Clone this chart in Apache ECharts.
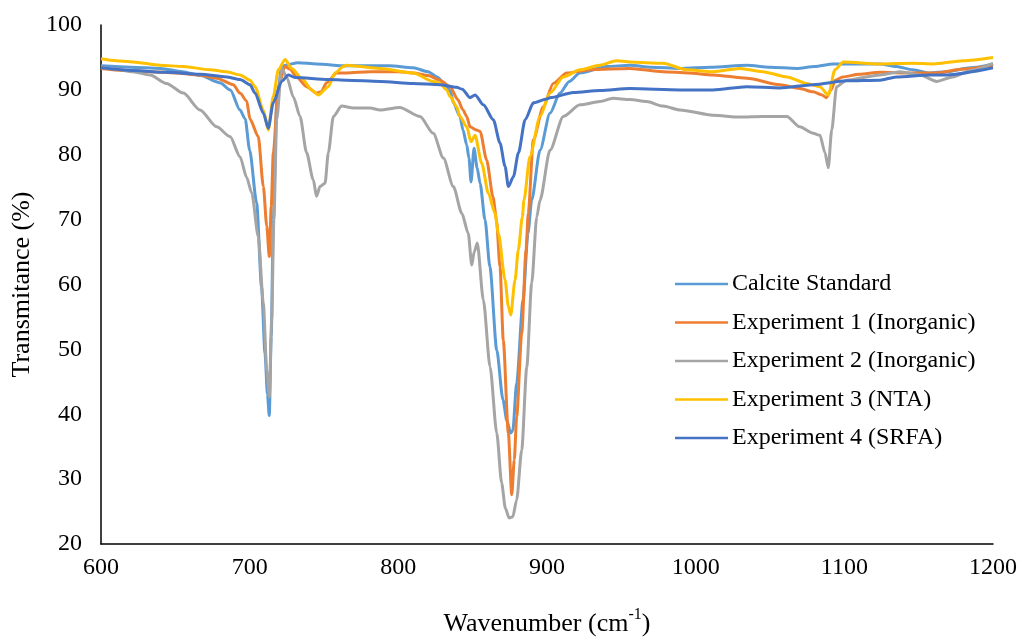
<!DOCTYPE html>
<html>
<head>
<meta charset="utf-8">
<script src="https://cdn.jsdelivr.net/npm/echarts@6/dist/echarts.min.js"></script>
<style>html,body{margin:0;padding:0;background:#fff}#c{width:1022px;height:637px}</style>
</head>
<body>
<div id="c"></div>
<script>
const seriesNames = ['Calcite Standard','Experiment 1 (Inorganic)','Experiment 2 (Inorganic)','Experiment 3 (NTA)','Experiment 4 (SRFA)'];
const xTicks = [600,700,800,900,1000,1100,1200];
const yTicks = [20,30,40,50,60,70,80,90,100];

const calcite = [[600,93.7],[620,93.5],[640,93.3],[655,92.8],[667,92.2],[680,91.1],[687,90.0],[693.5,86.9],[697,85.5],[700,80.7],[704.7,72.6],[708,59.6],[710.3,49.4],[712,43],[713.2,39.8],[714.5,52],[715.9,69.9],[718.2,88],[721.5,93.5],[724,93.8],[732.5,94.2],[745,94.0],[765,93.7],[794,93.7],[810,93.4],[820,92.8],[826,92.0],[831,91],[835,89.8],[837,88],[841.5,85.9],[843.5,83.8],[846,81.5],[847.5,79.5],[848.9,75.8],[850.9,81.0],[853,78],[855,75.6],[858.3,70],[861.6,62.7],[866.2,49.9],[870.4,42.2],[873,39],[875.6,37.1],[877,37.5],[879.6,44.8],[883.9,57.6],[887.2,67.9],[889.7,73],[895.3,80.7],[902,86.4],[908.7,89.5],[915,91.3],[922,92.6],[940,93.6],[956,93.8],[970,93.5],[989.5,93.3],[1010,93.5],[1034.5,93.8],[1050,93.5],[1068,93.3],[1080,93.6],[1092.4,94.0],[1110,94.0],[1124,94.0],[1135,93.6],[1146,93.1],[1157.6,92.6],[1169,92.8],[1185,93.4],[1200,94.0]];

const exp1 = [[600,93.3],[615,93.0],[633,92.8],[650,92.6],[666.6,92.3],[677.8,91.8],[689,90.8],[693.5,89.5],[698,88.3],[700.2,85.5],[705.8,82.8],[709.2,75.1],[711.5,69],[713.2,64.3],[714.5,72],[715.9,80.3],[719.3,90.6],[723.8,93.6],[727,93.2],[731.6,92.0],[738.3,90.5],[745,89.5],[748,89.7],[751.8,91.1],[758.5,92.6],[765,92.6],[781,92.8],[800,92.8],[810,92.6],[820,92.2],[828,91.5],[834.8,90.5],[840,88.5],[843.5,86.9],[846,85.9],[848.2,84.3],[852.7,83.8],[855,83.6],[859.4,79.2],[863.7,73.5],[866,70],[868.4,62.7],[870.6,51.4],[874,37.1],[876.3,27.6],[878,33],[879.6,39.6],[883,52.5],[885.9,65.3],[887.4,71],[890.8,82.3],[897.5,87.4],[904.2,91],[913.2,92.6],[928.9,93.1],[955.8,93.3],[978,92.8],[995,92.6],[1011.6,92.3],[1034.5,91.8],[1056.7,90.8],[1070,90.2],[1079,89.7],[1085,89.2],[1088,88.8],[1091,90],[1094,91.5],[1099,92.0],[1110,92.4],[1124,92.7],[1146,92.6],[1162,92.6],[1180,93.2],[1200,93.8]];

const exp2 = [[600,93.5],[610,93.2],[621.5,92.8],[633,92.3],[644,91.0],[655.4,89.5],[666.6,86.9],[677.8,84.3],[686.8,82.8],[693.5,79.7],[698,76.5],[701.4,74.1],[705.8,67.4],[709.2,57.1],[711.5,46.8],[713.2,42.7],[714.8,54.5],[716.3,70],[718.2,85.4],[721.5,93.3],[724.9,92.0],[729.4,88.9],[733.9,85.9],[738.3,80.3],[742.8,76.1],[745,73.6],[747.3,75.1],[750.7,75.6],[752.9,80.3],[756.3,85.9],[761.9,87.5],[769.7,87.2],[781,87.2],[787.7,86.9],[801,87.3],[814.6,85.9],[823.5,83.3],[830.3,79.5],[837,75.1],[842.7,71],[847,67.9],[849.4,63],[851,65],[853.1,66.4],[857.2,57.6],[861.7,47.3],[866.2,37.1],[869.5,29.4],[872,25.5],[874.5,24],[877,24.2],[879.6,26.8],[883,34.5],[886.4,47.3],[889.7,60.2],[893.1,70.4],[895.3,73],[902,80.7],[911,85.9],[922.2,87.7],[935.6,88.2],[944.4,88.7],[955.8,88.5],[967,88.2],[978,87.5],[989.5,86.9],[1011.6,86.1],[1029.8,85.8],[1045,85.9],[1061.4,85.9],[1070,84.3],[1079,83.3],[1083.6,83],[1087,80.3],[1089.2,78],[1091.5,83.8],[1094.8,90.5],[1101.6,91.5],[1124,92.3],[1137.4,92.8],[1151,92.3],[1162,91.3],[1173,92.0],[1185,93],[1200,94.1]];

const exp3 = [[600,94.8],[610,94.5],[621.5,94.3],[639.7,93.8],[655.4,93.6],[673.3,93.1],[684.5,92.8],[693.5,92.3],[700.2,91.5],[703.6,90.5],[709.2,86.9],[712.5,83.8],[715.9,89],[719.3,93.1],[723.8,94.7],[728.3,93.3],[735,91.8],[741.7,90],[746.2,89.2],[752.9,90.5],[757.4,92.6],[763,93.6],[765,93.8],[787.7,93.3],[810,92.6],[823.5,91.3],[828,91],[832.5,90],[834.8,89],[839.2,87.4],[841.5,85.9],[846,84.3],[848.9,82],[851.6,83],[856.1,78.7],[860.5,74.1],[865,71],[867.3,67.9],[871.8,60.7],[874,56.6],[875.6,55.3],[878.5,60.7],[880.7,65.3],[883.4,70.4],[884.5,73],[888.5,79.7],[895.3,85.9],[902,89.5],[911,92],[922.2,93.1],[935.6,93.8],[946.8,94.5],[955.8,94.3],[978,94.1],[994,93.1],[1011.6,92.8],[1029.8,93.3],[1045,92.8],[1061.4,92],[1074.6,91],[1083.6,90.5],[1089.2,89.2],[1093.7,93.1],[1099.3,94.3],[1124,94],[1146.4,94.1],[1159.8,94],[1180,94.5],[1200,95]];

const exp4 = [[600,93.4],[621.5,93.0],[644,92.7],[666.6,92.4],[684.5,92],[693.5,91.6],[700.2,90.8],[703.6,89.5],[709.2,86.4],[712.5,84.1],[715.9,88],[721.5,91.3],[726,92.3],[730.5,91.9],[752.9,91.6],[765,91.5],[787.7,91.3],[810,91.0],[828,90.8],[839.2,90.4],[843,90.1],[848.2,88.8],[851.6,89.2],[857.2,87.7],[863.9,85.4],[868.4,81.8],[871.8,78.2],[874,75.1],[877.4,76.6],[880.8,80.3],[885.3,85.4],[890.9,88],[899.8,88.6],[902,88.8],[917.8,89.6],[935.7,89.9],[955.8,90.2],[989.5,90],[1011.6,90],[1034.3,90.5],[1056.7,90.3],[1079,90.8],[1101.6,91.4],[1124,91.5],[1135,92],[1157.6,92.3],[1168.9,92.3],[1200,93.4]];

const colors = ['#5B9BD5','#ED7D31','#A5A5A5','#FFC000','#4472C4'];
const allData = [calcite, exp1, exp2, exp3, exp4];
const FONT = '"Liberation Serif","Times New Roman",serif';

const chart = echarts.init(document.getElementById('c'), null, {renderer:'canvas'});
chart.setOption({
  animation: false,
  backgroundColor: '#fff',
  color: colors,
  textStyle: {fontFamily: FONT, color: '#000'},
  grid: {left: 101, right: 29, top: 25, bottom: 93, containLabel: false, outerBoundsMode: 'none'},
  legend: {
    orient: 'vertical', left: 670, top: 267,
    itemWidth: 53, itemHeight: 14, itemGap: 14.5,
    icon: 'path://M0,6 L53,6 L53,8.5 L0,8.5 Z',
    textStyle: {fontFamily: FONT, fontSize: 24, color: '#000', lineHeight: 24, padding: [0,0,0,-1]},
    data: seriesNames
  },
  xAxis: {
    type: 'value', min: xTicks[0], max: xTicks[xTicks.length-1], interval: 100,
    axisLine: {lineStyle: {color: '#000', width: 1.5}},
    axisTick: {show: false}, splitLine: {show: false},
    axisLabel: {fontFamily: FONT, fontSize: 24, color: '#000', margin: 12, formatter: v => String(v)},
    name: '{a|Wavenumber (cm}{s|-1}{a|)}', nameLocation: 'middle', nameGap: 63,
    nameTextStyle: {rich: {
      a: {fontFamily: FONT, fontSize: 26, color: '#000', lineHeight: 30, verticalAlign: 'bottom'},
      s: {fontFamily: FONT, fontSize: 16, color: '#000', lineHeight: 30, verticalAlign: 'top', padding: [0,0,14,0]}
    }}
  },
  yAxis: {
    type: 'value', min: yTicks[0], max: yTicks[yTicks.length-1], interval: 10,
    axisLine: {show: true, lineStyle: {color: '#000', width: 1.5}},
    axisTick: {show: false}, splitLine: {show: false},
    axisLabel: {fontFamily: FONT, fontSize: 24, color: '#000', margin: 19},
    name: 'Transmitance (%)', nameLocation: 'middle', nameGap: 54,
    nameTextStyle: {fontFamily: FONT, fontSize: 26, color: '#000'}
  },
  series: seriesNames.map((n, i) => ({
    name: n, type: 'line', data: allData[i],
    showSymbol: false, symbol: 'none',
    smooth: 0.25, smoothMonotone: 'x',
    lineStyle: {width: 3, color: colors[i]},
    itemStyle: {color: colors[i]}
  }))
});
</script>
</body>
</html>
